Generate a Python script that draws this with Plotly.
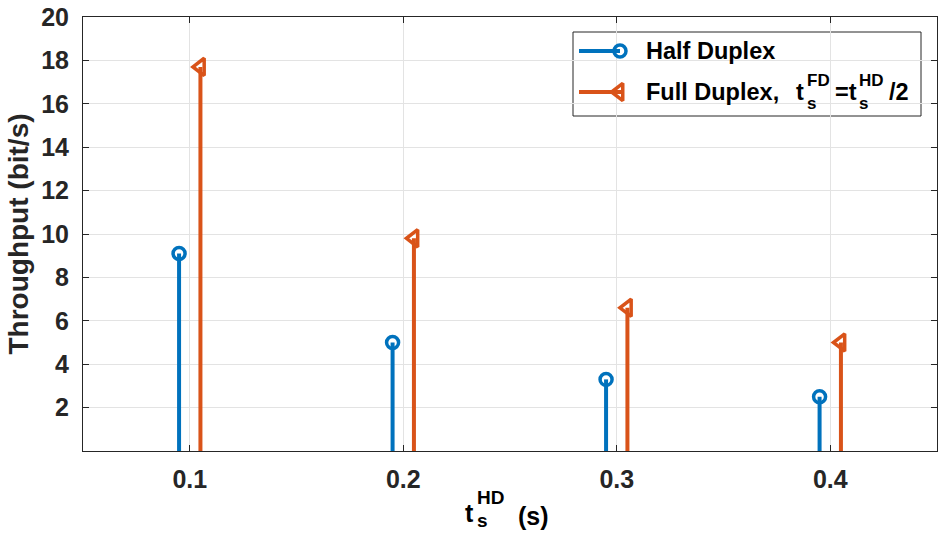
import plotly.graph_objects as go

# ---- data ----
t_hd = [0.1, 0.2, 0.3, 0.4]
half_duplex = [9.1, 5.0, 3.3, 2.5]
full_duplex = [17.7, 9.8, 6.6, 5.0]
y_ticks = [2, 4, 6, 8, 10, 12, 14, 16, 18, 20]
x_ticks = [0.1, 0.2, 0.3, 0.4]

BLUE = "#0072BD"
ORANGE = "#D95319"
FONT = "Liberation Sans"
W, H = 938, 546
L, R, T, B = 83, 937, 17, 451
off = 0.005


def stems(xs, ys):
    sx, sy = [], []
    for x, y in zip(xs, ys):
        sx += [x, x, None]
        sy += [0, y, None]
    return sx, sy


fig = go.Figure()
hx = [x - off for x in t_hd]
fx = [x + off for x in t_hd]
sx, sy = stems(hx, half_duplex)
fig.add_trace(go.Scatter(x=sx, y=sy, mode="lines", line=dict(color=BLUE, width=4),
                         showlegend=False, hoverinfo="skip"))
fig.add_trace(go.Scatter(x=hx, y=half_duplex, mode="markers", name="Half Duplex",
                         marker=dict(symbol="circle-open", size=12, color=BLUE,
                                     line=dict(color=BLUE, width=3.5)),
                         showlegend=False))
sx, sy = stems(fx, full_duplex)
fig.add_trace(go.Scatter(x=sx, y=sy, mode="lines", line=dict(color=ORANGE, width=4),
                         showlegend=False, hoverinfo="skip"))
fig.add_trace(go.Scatter(x=fx, y=full_duplex, mode="markers", name="Full Duplex",
                         marker=dict(symbol="triangle-left-open", size=15, color=ORANGE,
                                     line=dict(color=ORANGE, width=3.5)),
                         showlegend=False))

# ---- custom legend in pixel coordinates (overlay axes) ----
fig.add_trace(go.Scatter(x=[579, 620], y=[51, 51], mode="lines", line=dict(color=BLUE, width=4),
                         xaxis="x2", yaxis="y2", showlegend=False, hoverinfo="skip"))
fig.add_trace(go.Scatter(x=[620], y=[51], mode="markers", xaxis="x2", yaxis="y2",
                         marker=dict(symbol="circle-open", size=12, color=BLUE,
                                     line=dict(color=BLUE, width=3.5)),
                         showlegend=False, hoverinfo="skip"))
fig.add_trace(go.Scatter(x=[579, 622], y=[92, 92], mode="lines", line=dict(color=ORANGE, width=4),
                         xaxis="x2", yaxis="y2", showlegend=False, hoverinfo="skip"))
fig.add_trace(go.Scatter(x=[619], y=[92], mode="markers", xaxis="x2", yaxis="y2",
                         marker=dict(symbol="triangle-left-open", size=15, color=ORANGE,
                                     line=dict(color=ORANGE, width=3.5)),
                         showlegend=False, hoverinfo="skip"))

shapes = [dict(type="rect", xref="x2", yref="y2", x0=573, x1=921, y0=32, y1=116,
               line=dict(color="#262626", width=1), fillcolor="white", layer="below")]

anns = []


def txt(px, py, s, size=23.5, anchor="left"):
    # pixel position -> paper coordinates (works outside the plot area too)
    anns.append(dict(x=(px - L) / (R - L), y=(B - py) / (B - T), xref="paper", yref="paper",
                     text="<b>" + s + "</b>", showarrow=False,
                     xanchor=anchor, yanchor="middle",
                     font=dict(family=FONT, size=size, color="#000000")))


txt(644, 51, "Half Duplex")
txt(644, 92, "Full Duplex,")
txt(794, 92, "t")
txt(805, 80, "FD", 17)
txt(805, 104, "s", 17)
txt(833, 92, "=t")
txt(857, 80, "HD", 17)
txt(857, 104, "s", 17)
txt(887, 92, "/2")

# x-axis title, stacked sub/superscript
txt(463, 513, "t", 25)
txt(475, 497, "HD", 19)
txt(475, 520, "s", 19)
txt(516, 516, "(s)", 25)

fig.update_layout(
    width=W, height=H,
    margin=dict(l=L, r=W - R, t=T, b=H - B, pad=0),
    paper_bgcolor="white", plot_bgcolor="white",
    font=dict(family=FONT, size=25, color="#262626"),
    shapes=shapes, annotations=anns,
    xaxis=dict(range=[0.05, 0.45], tickvals=x_ticks, ticktext=["<b>%g</b>" % v for v in x_ticks],
               showgrid=True, gridcolor="#e3e3e3", gridwidth=1, zeroline=False,
               showline=True, linecolor="#262626", linewidth=1, mirror="ticks",
               ticks="inside", ticklen=6, tickcolor="#262626", ticklabelstandoff=6,
               tickfont=dict(family=FONT, size=25, color="#262626")),
    yaxis=dict(range=[0, 20], tickvals=y_ticks, ticktext=["<b>%d</b>" % v for v in y_ticks],
               showgrid=True, gridcolor="#e3e3e3", gridwidth=1, zeroline=False,
               showline=True, linecolor="#262626", linewidth=1, mirror="ticks",
               ticks="inside", ticklen=6, tickcolor="#262626", ticklabelstandoff=8,
               tickfont=dict(family=FONT, size=25, color="#262626"),
               title=dict(text="<b>Throughput (bit/s)</b>", standoff=4,
                          font=dict(family=FONT, size=28, color="#262626"))),
    xaxis2=dict(range=[L, R], overlaying="x", visible=False, fixedrange=True),
    yaxis2=dict(range=[B, T], overlaying="y", visible=False, fixedrange=True),
)

fig.write_html("out.html")
